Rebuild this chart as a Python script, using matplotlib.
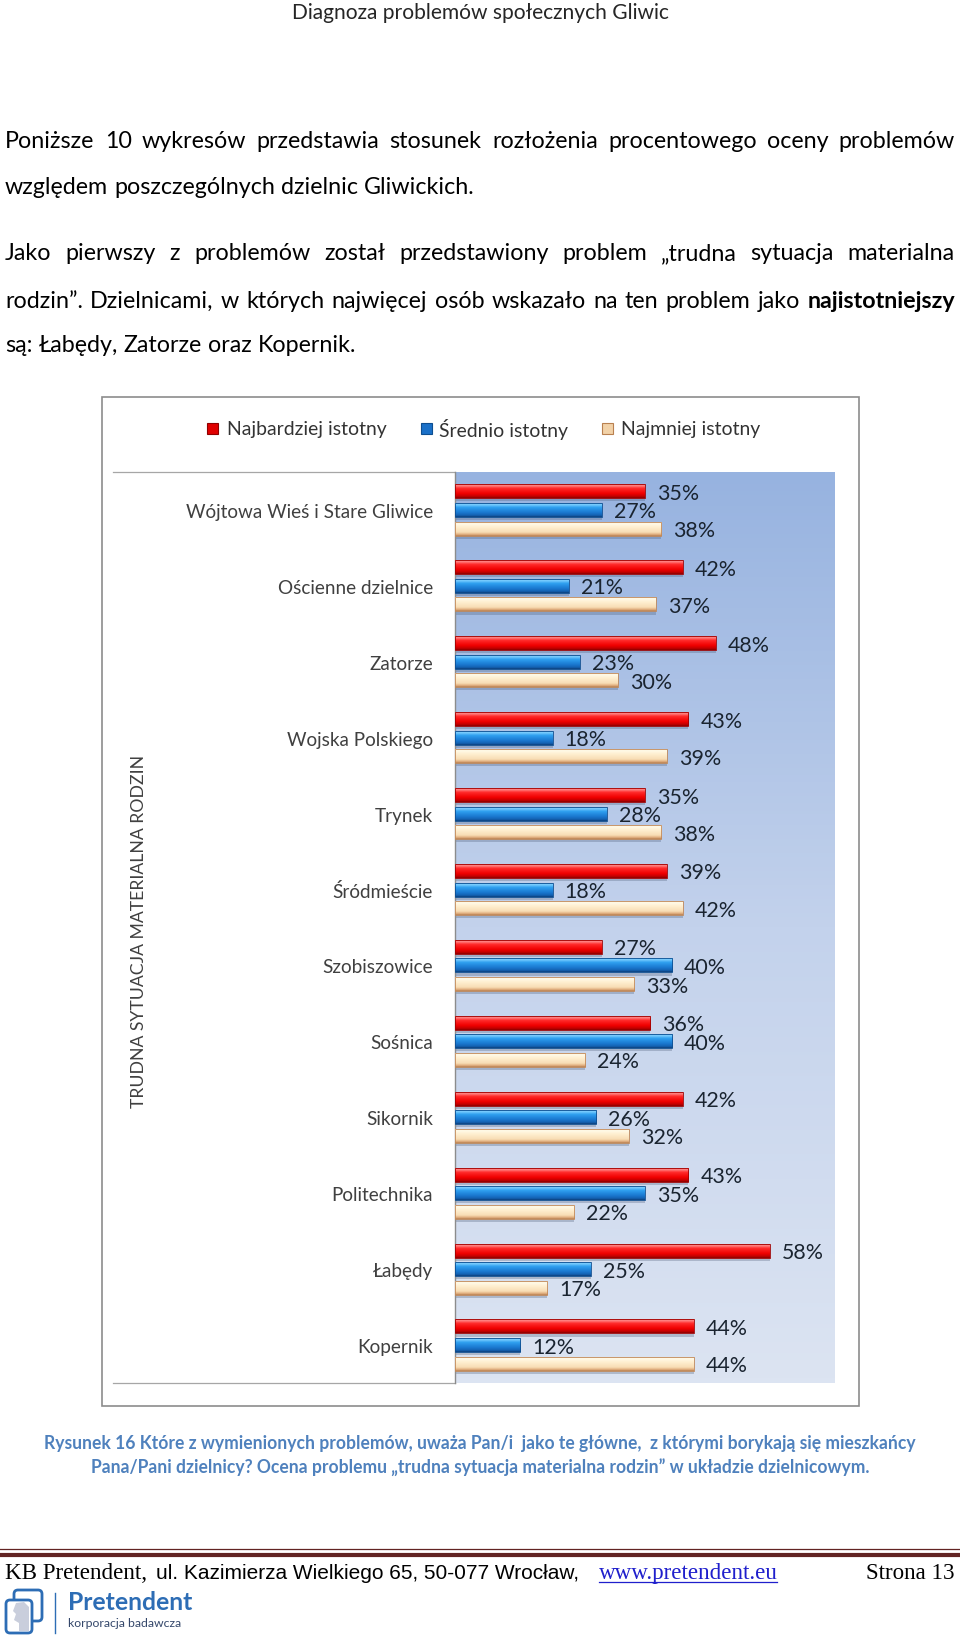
import numpy as np
import matplotlib
matplotlib.use('Agg')
import matplotlib.pyplot as plt
from matplotlib.colors import LinearSegmentedColormap
from matplotlib.patches import Rectangle, FancyBboxPatch, Polygon

W, H, DPI = 960, 1640, 100

# ---------------- data ----------------
categories = ["Wójtowa Wieś i Stare Gliwice", "Ościenne dzielnice", "Zatorze",
              "Wojska Polskiego", "Trynek", "Śródmieście", "Szobiszowice",
              "Sośnica", "Sikornik", "Politechnika", "Łabędy", "Kopernik"]
najbardziej = [35, 42, 48, 43, 35, 39, 27, 36, 42, 43, 58, 44]
srednio = [27, 21, 23, 18, 28, 18, 40, 40, 26, 35, 25, 12]
najmniej = [38, 37, 30, 39, 38, 42, 33, 24, 32, 22, 17, 44]
series_names = ["Najbardziej istotny", "Średnio istotny", "Najmniej istotny"]
axis_title = "TRUDNA SYTUACJA MATERIALNA RODZIN"

header = "Diagnoza problemów społecznych Gliwic"
para_lines = [
    ([("Poniższe 10 wykresów przedstawia stosunek rozłożenia procentowego oceny problemów", "normal")], True),
    ([("względem poszczególnych dzielnic Gliwickich.", "normal")], False),
    ([("Jako pierwszy z problemów został przedstawiony problem „trudna sytuacja materialna", "normal")], True),
    ([("rodzin”. Dzielnicami, w których najwięcej osób wskazało na ten problem jako", "normal"),
      ("najistotniejszy", "bold")], True),
    ([("są: Łabędy, Zatorze oraz Kopernik.", "normal")], False),
]
caption = ["Rysunek 16 Które z wymienionych problemów, uważa Pan/i  jako te główne,  z którymi borykają się mieszkańcy",
           "Pana/Pani dzielnicy? Ocena problemu „trudna sytuacja materialna rodzin” w układzie dzielnicowym."]

# ---------------- figure ----------------
fig = plt.figure(figsize=(W / DPI, H / DPI), dpi=DPI)
fig.patch.set_facecolor('white')
renderer = fig.canvas.get_renderer()

ov = fig.add_axes([0, 0, 1, 1])
ov.set_xlim(0, W)
ov.set_ylim(H, 0)
ov.axis('off')

BODY = ['Lato', 'DejaVu Sans']


def twidth(s, size, family, weight='normal'):
    t = ov.text(0, 0, s, fontsize=size, family=family, weight=weight)
    w = t.get_window_extent(renderer).width
    t.remove()
    return w


def fit(s, target, family, weight='normal'):
    return 10.0 * target / twidth(s, 10, family, weight)


# header
hs = fit(header, 378, BODY)
ov.text(480, 13, header, fontsize=hs, family=BODY, color='#262626',
        ha='center', va='center')

# paragraph (justified)
words_l4 = []
for seg, wt in para_lines[3][0]:
    words_l4 += [(w, wt) for w in seg.split(' ')]
space10 = twidth("a a", 10, BODY) - twidth("aa", 10, BODY)
nat10 = sum(twidth(w, 10, BODY, wt) for w, wt in words_l4) + space10 * (len(words_l4) - 1)
bsize = 10.0 * 938 / nat10
space = space10 * bsize / 10.0
ys = [141, 188, 254, 301, 346]
X0, X1 = 5, 955
for (segs, just), y in zip(para_lines, ys):
    words = []
    for seg, wt in segs:
        words += [(w, wt) for w in seg.split(' ')]
    widths = [twidth(w, bsize, BODY, wt) for w, wt in words]
    gap = (X1 - X0 - sum(widths)) / (len(words) - 1) if just else space
    x = X0
    for (w, wt), wd in zip(words, widths):
        ov.text(x, y, w, fontsize=bsize, family=BODY, weight=wt, color='black',
                ha='left', va='center')
        x += wd + gap

# chart frame
ov.add_patch(Rectangle((102, 398), 757, 1009, fill=False, edgecolor='#8C8C8C', lw=1.2))
ov.plot([113, 455], [473, 473], color='#A6A6A6', lw=0.9)
ov.plot([113, 455], [1384, 1384], color='#A6A6A6', lw=0.9)

# legend
lsize = fit(series_names[0], 160, BODY)
leg_cols = [('#E00000', '#900000'), ('#1A70C8', '#0E4E90'), ('#F2D2A8', '#B98050')]
for name, (fc, ec), mx, tx in zip(series_names, leg_cols, [212, 426, 607], [227, 439, 621]):
    ov.add_patch(Rectangle((mx - 5.5, 429 - 5.5), 11, 11, facecolor=fc, edgecolor=ec, lw=0.8))
    ov.text(tx, 429, name, fontsize=lsize, family=BODY, color='#333333', ha='left', va='center')

# axis title
ts = fit(axis_title, 351, BODY)
ov.text(139, 931, axis_title, fontsize=ts, family=BODY, color='#404040', rotation=90,
        ha='center', va='center')

# caption
cs = fit(caption[0], 873, BODY, 'bold')
for s, y in zip(caption, [1444, 1467]):
    ov.text(480, y, s, fontsize=cs, family=BODY, weight='bold', color='#4F81BD',
            ha='center', va='center')

# footer lines
ov.plot([0, W], [1550, 1550], color='#622423', lw=0.9)
ov.plot([0, W], [1555.5, 1555.5], color='#622423', lw=3.0)

SERIF = ['Liberation Serif', 'DejaVu Serif']
NARROW = ['Liberation Sans Narrow', 'Liberation Sans']
fy_ = 1574
s1 = fit("KB Pretendent,", 142, SERIF)
ov.text(5, fy_, "KB Pretendent,", fontsize=s1, family=SERIF, color='black', va='center')
s2 = fit("ul. Kazimierza Wielkiego 65, 50-077 Wrocław,", 424, NARROW)
ov.text(156, fy_, "ul. Kazimierza Wielkiego 65, 50-077 Wrocław,", fontsize=s2, family=NARROW,
        color='black', va='center')
lw_ = twidth("www.pretendent.eu", s1, SERIF)
lx = 688 - lw_ / 2
ov.text(lx, fy_, "www.pretendent.eu", fontsize=s1, family=SERIF, color='#1F1FCC', va='center')
ov.plot([lx, lx + lw_], [fy_ + 9, fy_ + 9], color='#1F1FCC', lw=0.9)
ov.text(955, fy_, "Strona 13", fontsize=s1, family=SERIF, color='black', va='center', ha='right')

# logo
LB = '#2D6DB5'
ov.add_patch(FancyBboxPatch((14, 1591), 28, 31, boxstyle="round,pad=0,rounding_size=4",
                            fill=False, edgecolor=LB, lw=2.0))
ov.add_patch(FancyBboxPatch((6, 1601), 26, 33, boxstyle="round,pad=0,rounding_size=4",
                            facecolor='white', edgecolor=LB, lw=2.0))
ov.add_patch(Polygon([[16, 1604], [24, 1603], [29, 1608], [29, 1632], [19, 1632],
                      [19, 1624], [14, 1621], [16, 1615], [13, 1612]],
                     closed=True, facecolor='#C9CEDC', edgecolor='none'))
ov.plot([55, 55], [1594, 1634], color=LB, lw=1.0)
ps = fit("Pretendent", 125, BODY, 'bold')
ov.text(68, 1603, "Pretendent", fontsize=ps, family=BODY, weight='bold', color=LB, va='center')
ks = fit("korporacja badawcza", 114, BODY)
ov.text(68, 1624, "korporacja badawcza", fontsize=ks, family=BODY, color='#34476A', va='center')

# ---------------- chart ----------------
L, R, T, B = 455, 835, 473, 1384
ax = fig.add_axes([L / W, 1 - B / H, (R - L) / W, (B - T) / H])
ax.set_facecolor('none')

bg = LinearSegmentedColormap.from_list('bg', ['#DCE4F2', '#C3D2EC', '#97B3E0'])
ax.imshow(np.linspace(0, 1, 256).reshape(-1, 1)[::-1], cmap=bg, aspect='auto',
          extent=(0, 1, 0, 1), transform=ax.transAxes, zorder=0, interpolation='bilinear')

cmaps = [
    LinearSegmentedColormap.from_list('r', [(0, '#F04040'), (0.15, '#FF8A8A'), (0.35, '#FF2A2A'),
                                            (0.7, '#F00000'), (0.9, '#C00000'), (1, '#8A0000')]),
    LinearSegmentedColormap.from_list('b', [(0, '#3AA0E8'), (0.15, '#7FD0FF'), (0.35, '#2FA0F0'),
                                            (0.7, '#1A78D0'), (0.9, '#1460B0'), (1, '#0C3F7A')]),
    LinearSegmentedColormap.from_list('y', [(0, '#F2D6B0'), (0.15, '#FFFBEA'), (0.4, '#FFEFD0'),
                                            (0.75, '#F8DDB5'), (0.9, '#E2B080'), (1, '#B98050')]),
]
edges = ['#A00000', '#0E4E90', '#C08858']
base = ['#F00000', '#1A78D0', '#F8DDB5']

y = np.arange(len(categories))
offs = [-0.245, 0.0, 0.245]
bh = 0.185
vsize = fit("35%", 42, BODY)
grad = np.linspace(0, 1, 64).reshape(-1, 1)
for vals, off, cm, ec, bc in zip([najbardziej, srednio, najmniej], offs, cmaps, edges, base):
    yy = y + off
    ax.barh(yy + 0.04, vals, height=bh, color='#4A5A75', alpha=0.3, zorder=1, lw=0)
    bars = ax.barh(yy, vals, height=bh, color=bc, zorder=2, lw=0)
    for p in bars:
        x0, y0, w, h = p.get_x(), p.get_y(), p.get_width(), p.get_height()
        im = ax.imshow(grad, cmap=cm, aspect='auto', extent=(x0, x0 + w, y0 + h, y0),
                       origin='upper', zorder=3, interpolation='bilinear')
        im.set_clip_path(p)
    ax.barh(yy, vals, height=bh, fill=False, edgecolor=ec, lw=0.6, zorder=4)
    for v, yv in zip(vals, yy):
        ax.text(v + 2.2, yv + 0.02, f"{v}%", fontsize=vsize, family=BODY, color='#1A2430',
                ha='left', va='center', zorder=5)

ax.set_xlim(0, 70)
ax.set_ylim(len(categories) - 0.5, -0.5)
csize = fit(categories[0], 248, BODY)
ax.set_yticks(y)
ax.set_yticklabels(categories, fontsize=csize, family=BODY, color='#404040')
ax.tick_params(axis='y', length=0, pad=16)
ax.set_xticks([])
for s in ['top', 'right', 'bottom']:
    ax.spines[s].set_visible(False)
ax.spines['left'].set_color('#8C8C8C')
ax.spines['left'].set_linewidth(1.0)

fig.savefig('out.png', dpi=DPI, facecolor='white')
